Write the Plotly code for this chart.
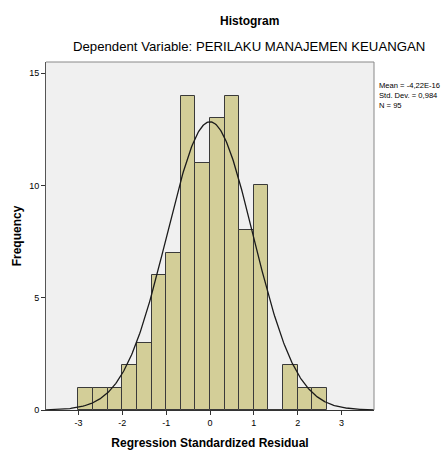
import numpy as np
import plotly.graph_objects as go

bin_left = [-3.0, -2.6667, -2.3333, -2.0, -1.6667, -1.3333, -1.0, -0.6667, -0.3333,
            0.0, 0.3333, 0.6667, 1.0, 1.3333, 1.6667, 2.0, 2.3333]
counts = [1, 1, 1, 2, 3, 6, 7, 14, 11, 13, 14, 8, 10, 0, 2, 1, 1]
bin_width = 1/3
mean = -4.22e-16
std = 0.984
n = 95
x_ticks = [-3, -2, -1, 0, 1, 2, 3]
y_ticks = [0, 5, 10, 15]

centers = [b + bin_width/2 for b in bin_left]

xs = np.linspace(-3.74, 3.74, 400)
ys = n * bin_width * np.exp(-0.5 * ((xs - mean)/std)**2) / (std*np.sqrt(2*np.pi))

fig = go.Figure()
fig.add_trace(go.Bar(x=centers, y=counts, width=bin_width,
                     marker=dict(color="#D3CE98", line=dict(color="#3a3a3a", width=1)),
                     hoverinfo="skip"))
fig.add_trace(go.Scatter(x=xs, y=ys, mode="lines", line=dict(color="#1a1a1a", width=1.3),
                         hoverinfo="skip"))

font = "Liberation Sans, Arial, sans-serif"
fig.update_layout(
    width=445, height=450,
    margin=dict(l=46, r=71, t=62, b=40),
    paper_bgcolor="white", plot_bgcolor="#F0F0F0",
    showlegend=False, bargap=0,
    font=dict(family=font, color="#000", size=9),
    xaxis=dict(range=[-3.74, 3.74], tickvals=x_ticks, ticktext=[str(v) for v in x_ticks],
               ticks="outside", ticklen=4, tickcolor="#333", showgrid=False, zeroline=False,
               showline=True, linecolor="#333", linewidth=1, mirror=False, automargin=False,
               tickfont=dict(size=9),
               title=dict(text="<b>Regression Standardized Residual</b>", font=dict(size=12), standoff=12)),
    yaxis=dict(range=[0, 15.5], tickvals=y_ticks, ticks="outside", ticklen=4, tickcolor="#333",
               showgrid=False, zeroline=False, showline=True, linecolor="#555", linewidth=1,
               automargin=False, tickfont=dict(size=9),
               title=dict(text="<b>Frequency</b>", font=dict(size=12), standoff=4)),
)
# frame top and right
fig.add_shape(type="line", xref="paper", yref="paper", x0=0, x1=1, y0=1, y1=1,
              line=dict(color="#888", width=1))
fig.add_shape(type="line", xref="paper", yref="paper", x0=1, x1=1, y0=0, y1=1,
              line=dict(color="#888", width=1))

fig.add_annotation(text="<b>Histogram</b>", xref="paper", yref="paper", x=0.62, y=1,
                   yshift=32, showarrow=False, font=dict(size=12), xanchor="center", yanchor="bottom")
fig.add_annotation(text="Dependent Variable: PERILAKU MANAJEMEN KEUANGAN", xref="paper", yref="paper",
                   x=0.62, y=1, yshift=6, showarrow=False, font=dict(size=13.2),
                   xanchor="center", yanchor="bottom")
fig.add_annotation(text="Mean = -4,22E-16<br>Std. Dev. = 0,984<br>N = 95", xref="paper", yref="paper",
                   x=1.008, y=0.95, showarrow=False, align="left", xanchor="left", yanchor="top",
                   font=dict(size=7.6))

fig.write_html("out.html", config={"displayModeBar": False},
               post_script="document.body.style.margin='0';document.body.style.overflow='hidden';")
